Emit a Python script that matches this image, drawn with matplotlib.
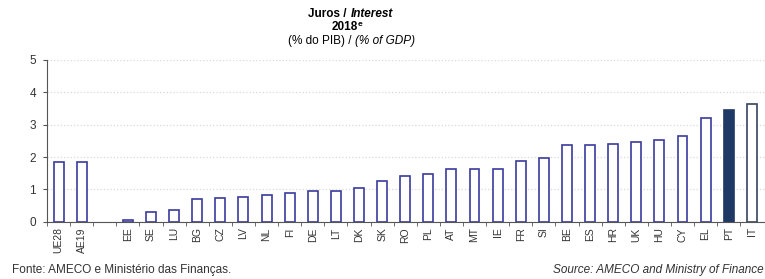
import matplotlib.pyplot as plt
import numpy as np

plt.rcParams['font.family'] = ['Liberation Sans', 'DejaVu Sans']

# Interest payments 2018 (% of GDP)
countries = ['UE28', 'AE19', '', 'EE', 'SE', 'LU', 'BG', 'CZ', 'LV', 'NL', 'FI',
             'DE', 'LT', 'DK', 'SK', 'RO', 'PL', 'AT', 'MT', 'IE', 'FR', 'SI',
             'BE', 'ES', 'HR', 'UK', 'HU', 'CY', 'EL', 'PT', 'IT']
values = [1.86, 1.86, np.nan, 0.05, 0.31, 0.35, 0.71, 0.74, 0.77, 0.83, 0.88,
          0.95, 0.95, 1.05, 1.26, 1.42, 1.49, 1.62, 1.62, 1.64, 1.87, 1.98,
          2.37, 2.38, 2.41, 2.46, 2.54, 2.64, 3.20, 3.44, 3.65]

edge_blue = '#3B3B9E'
navy = '#1F3864'

fig = plt.figure(figsize=(7.65, 2.79), dpi=100)
ax = fig.add_axes([47 / 765, 1 - 221.7 / 279, 1 - 47 / 765, (221.7 - 60) / 279])

x = np.arange(len(countries))
for i, (c, v) in enumerate(zip(countries, values)):
    if np.isnan(v):
        continue
    if c == 'PT':
        ax.bar(i, v, width=0.43, color=navy, edgecolor=navy, linewidth=1.2)
    elif c == 'IT':
        ax.bar(i, v, width=0.43, color='white', edgecolor='#34435F', linewidth=1.2)
    else:
        ax.bar(i, v, width=0.43, color='white', edgecolor=edge_blue, linewidth=1.2)

ax.set_ylim(0, 5)
ax.set_xlim(-0.5, 30.57)
ax.set_yticks(np.arange(0, 6, 1))
ax.grid(True, axis='y', color='#D9D9D9', linestyle=':', linewidth=0.9)
ax.set_axisbelow(True)

ax.set_xticks(x)
ax.set_xticklabels(countries, rotation=90, fontsize=7.5, color='#333333')
ax.set_xticks(np.arange(-0.5, len(countries) - 0.5, 1), minor=True)
ax.tick_params(axis='x', which='major', length=0, pad=4)
ax.tick_params(axis='x', which='minor', length=3, color='#555555')
ax.tick_params(axis='y', length=3, color='#555555', labelsize=8.5, labelcolor='#333333', pad=5)

for s in ['top', 'right']:
    ax.spines[s].set_visible(False)
ax.spines['left'].set_color('#555555')
ax.spines['bottom'].set_color('#555555')

# title lines
fig.text(346 / 765, 1 - 14 / 279, 'Juros /', ha='right', va='center', fontsize=8.5, fontweight='bold')
fig.text(351 / 765, 1 - 14 / 279, 'Interest', ha='left', va='center', fontsize=8.5,
         fontweight='bold', fontstyle='italic')
fig.text(345 / 765, 1 - 27 / 279, '2018', ha='center', va='center', fontsize=8.5, fontweight='bold')
fig.text(357.5 / 765, 1 - 24 / 279, 'e', ha='left', va='center', fontsize=6, fontweight='bold')
fig.text(352 / 765, 1 - 41 / 279, '(% do PIB) /', ha='right', va='center', fontsize=8.5)
fig.text(355 / 765, 1 - 41 / 279, '(% of GDP)', ha='left', va='center', fontsize=8.5,
         fontstyle='italic')

# sources
fig.text(12 / 765, 1 - 270 / 279, 'Fonte: AMECO e Ministério das Finanças.', ha='left',
         va='center', fontsize=8.5, color='#333333')
fig.text(764 / 765, 1 - 270 / 279, 'Source: AMECO and Ministry of Finance', ha='right',
         va='center', fontsize=8.5, fontstyle='italic', color='#333333')

plt.savefig('out.png', dpi=100)
